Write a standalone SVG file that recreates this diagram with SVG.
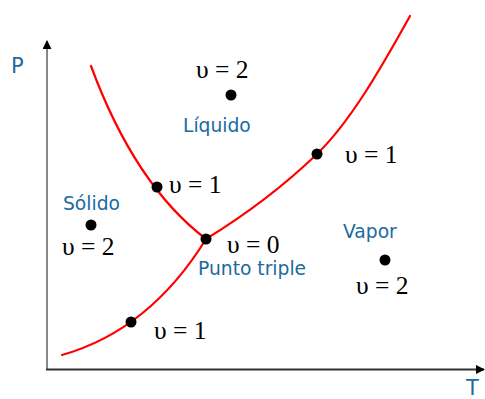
<svg xmlns="http://www.w3.org/2000/svg" width="485" height="399" viewBox="0 0 485 399">
<style>
.lbl{font-family:"DejaVu Sans",Verdana,sans-serif;font-size:18.7px;fill:#1a6ba0}
.ax{font-family:"DejaVu Sans",Verdana,sans-serif;font-size:21px;fill:#1a6ba0}
.v{font-family:"Liberation Serif","Times New Roman",serif;font-size:25.5px;fill:#000}
.curve{fill:none;stroke:#ff0000;stroke-width:2.2;stroke-linecap:round}
.dot{fill:#000}
</style>
<defs>
<marker id="arr" viewBox="0 0 10 10" refX="9" refY="5" markerWidth="9" markerHeight="9" markerUnits="userSpaceOnUse" orient="auto">
<path d="M0,0 L10,5 L0,10 z" fill="#000"/>
</marker>
</defs>
<g id="axes">
<line x1="47" y1="370" x2="47" y2="41" stroke="#888" stroke-width="2" marker-end="url(#arr)"/>
<line x1="46" y1="369.5" x2="484" y2="369.5" stroke="#333" stroke-width="2" marker-end="url(#arr)"/>
<text class="ax" x="11" y="73">P</text>
<text class="ax" x="466" y="395">T</text>
</g>
<g id="connectors">
<path class="curve" d="M62,355 Q150,330 206,239"/>
<path class="curve" d="M206,239 C250,212 290,180 317,154 C350,122 380,70 410,16"/>
<path class="curve" d="M91,66 Q135,185 206,239"/>
</g>
<g id="liquido">
<circle class="dot" cx="231" cy="95" r="5.5"/>
<text class="v" x="196" y="78">υ = 2</text>
<text class="lbl" x="183" y="132">Líquido</text>
</g>
<g id="solido">
<circle class="dot" cx="91" cy="225" r="5.5"/>
<text class="lbl" x="63" y="210">Sólido</text>
<text class="v" x="62" y="255">υ = 2</text>
</g>
<g id="vapor">
<circle class="dot" cx="385" cy="260" r="5.5"/>
<text class="lbl" x="343" y="238">Vapor</text>
<text class="v" x="356" y="294">υ = 2</text>
</g>
<g id="fusion">
<circle class="dot" cx="157" cy="187" r="5.5"/>
<text class="v" x="169" y="193">υ = 1</text>
</g>
<g id="vaporizacion">
<circle class="dot" cx="317" cy="154" r="5.5"/>
<text class="v" x="345" y="163">υ = 1</text>
</g>
<g id="sublimacion">
<circle class="dot" cx="131" cy="322" r="5.5"/>
<text class="v" x="154" y="339">υ = 1</text>
</g>
<g id="triple">
<circle class="dot" cx="206" cy="239" r="5.5"/>
<text class="v" x="227" y="253">υ = 0</text>
<text class="lbl" x="198" y="275">Punto triple</text>
</g>
</svg>
